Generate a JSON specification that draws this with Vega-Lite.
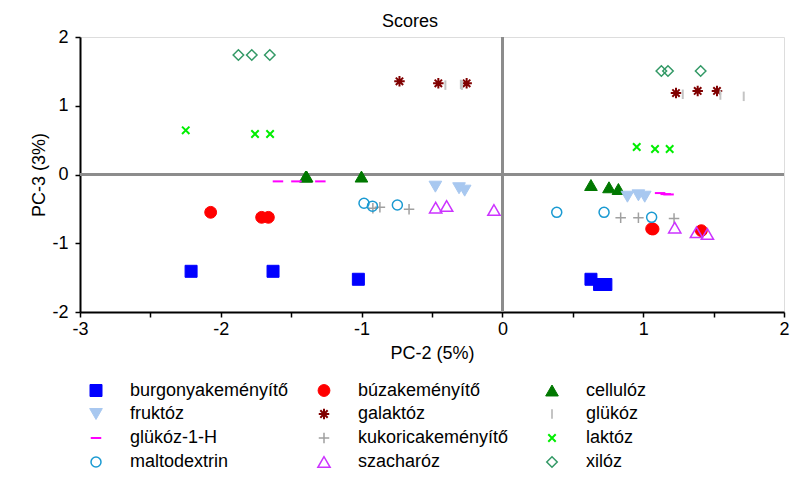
{
  "$schema": "https://vega.github.io/schema/vega-lite/v6.json",
  "width": 704,
  "height": 275,
  "autosize": "none",
  "padding": {"left": 80, "top": 37, "right": 13, "bottom": 179},
  "background": "white",
  "title": {"text": "Scores", "fontSize": 18, "fontWeight": "normal", "font": "Liberation Sans", "color": "black", "anchor": "middle", "dx": -22, "offset": -3},
  "data": {"values": [
    {"g": "burgonyakeményítő", "x": -2.211, "y": -1.408},
    {"g": "burgonyakeményítő", "x": -1.629, "y": -1.408},
    {"g": "burgonyakeményítő", "x": -1.023, "y": -1.524},
    {"g": "burgonyakeményítő", "x": 0.629, "y": -1.524},
    {"g": "burgonyakeményítő", "x": 0.69, "y": -1.6},
    {"g": "burgonyakeményítő", "x": 0.735, "y": -1.6},
    {"g": "búzakeményítő", "x": -2.072, "y": -0.55},
    {"g": "búzakeményítő", "x": -1.71, "y": -0.623},
    {"g": "búzakeményítő", "x": -1.662, "y": -0.623},
    {"g": "búzakeményítő", "x": 1.06, "y": -0.79},
    {"g": "búzakeményítő", "x": 1.07, "y": -0.793},
    {"g": "búzakeményítő", "x": 1.413, "y": -0.817},
    {"g": "cellulóz", "x": -1.397, "y": -0.03},
    {"g": "cellulóz", "x": -1.39, "y": -0.03},
    {"g": "cellulóz", "x": -1.001, "y": -0.03},
    {"g": "cellulóz", "x": 0.629, "y": -0.153},
    {"g": "cellulóz", "x": 0.757, "y": -0.186},
    {"g": "cellulóz", "x": 0.824, "y": -0.211},
    {"g": "fruktóz", "x": -0.476, "y": -0.177},
    {"g": "fruktóz", "x": -0.308, "y": -0.2},
    {"g": "fruktóz", "x": -0.268, "y": -0.235},
    {"g": "fruktóz", "x": 0.888, "y": -0.323},
    {"g": "fruktóz", "x": 0.966, "y": -0.303},
    {"g": "fruktóz", "x": 1.011, "y": -0.323},
    {"g": "galaktóz", "x": -0.731, "y": 1.356},
    {"g": "galaktóz", "x": -0.455, "y": 1.327},
    {"g": "galaktóz", "x": -0.254, "y": 1.327},
    {"g": "galaktóz", "x": 1.233, "y": 1.185},
    {"g": "galaktóz", "x": 1.387, "y": 1.215},
    {"g": "galaktóz", "x": 1.524, "y": 1.215},
    {"g": "glükóz", "x": -0.405, "y": 1.3},
    {"g": "glükóz", "x": -0.295, "y": 1.31},
    {"g": "glükóz", "x": -0.287, "y": 1.3},
    {"g": "glükóz", "x": 1.281, "y": 1.167},
    {"g": "glükóz", "x": 1.548, "y": 1.156},
    {"g": "glükóz", "x": 1.714, "y": 1.137},
    {"g": "glükóz-1-H", "x": -1.594, "y": -0.1},
    {"g": "glükóz-1-H", "x": -1.463, "y": -0.1},
    {"g": "glükóz-1-H", "x": -1.293, "y": -0.1},
    {"g": "glükóz-1-H", "x": 1.12, "y": -0.27},
    {"g": "glükóz-1-H", "x": 1.16, "y": -0.285},
    {"g": "glükóz-1-H", "x": 1.18, "y": -0.29},
    {"g": "kukoricakeményítő", "x": -0.92, "y": -0.49},
    {"g": "kukoricakeményítő", "x": -0.87, "y": -0.475},
    {"g": "kukoricakeményítő", "x": -0.663, "y": -0.506},
    {"g": "kukoricakeményítő", "x": 0.84, "y": -0.628},
    {"g": "kukoricakeményítő", "x": 0.966, "y": -0.628},
    {"g": "kukoricakeményítő", "x": 1.219, "y": -0.64},
    {"g": "laktóz", "x": -2.249, "y": 0.643},
    {"g": "laktóz", "x": -1.757, "y": 0.589},
    {"g": "laktóz", "x": -1.65, "y": 0.589},
    {"g": "laktóz", "x": 0.954, "y": 0.4},
    {"g": "laktóz", "x": 1.084, "y": 0.371},
    {"g": "laktóz", "x": 1.188, "y": 0.371},
    {"g": "maltodextrin", "x": -0.983, "y": -0.419},
    {"g": "maltodextrin", "x": -0.923, "y": -0.46},
    {"g": "maltodextrin", "x": -0.746, "y": -0.444},
    {"g": "maltodextrin", "x": 0.386, "y": -0.55},
    {"g": "maltodextrin", "x": 0.722, "y": -0.55},
    {"g": "maltodextrin", "x": 1.06, "y": -0.623},
    {"g": "szacharóz", "x": -0.474, "y": -0.482},
    {"g": "szacharóz", "x": -0.396, "y": -0.458},
    {"g": "szacharóz", "x": -0.06, "y": -0.516},
    {"g": "szacharóz", "x": 1.224, "y": -0.773},
    {"g": "szacharóz", "x": 1.378, "y": -0.841},
    {"g": "szacharóz", "x": 1.456, "y": -0.866},
    {"g": "xilóz", "x": -1.875, "y": 1.738},
    {"g": "xilóz", "x": -1.78, "y": 1.738},
    {"g": "xilóz", "x": -1.652, "y": 1.738},
    {"g": "xilóz", "x": 1.129, "y": 1.505},
    {"g": "xilóz", "x": 1.176, "y": 1.505},
    {"g": "xilóz", "x": 1.408, "y": 1.505}
  ]},
  "layer": [
    {
      "mark": {"type": "rule", "color": "#8c8c8c", "strokeWidth": 2},
      "encoding": {"x": {"datum": 0, "type": "quantitative"}}
    },
    {
      "mark": {"type": "rule", "color": "#8c8c8c", "strokeWidth": 2},
      "encoding": {"y": {"datum": 0, "type": "quantitative"}}
    },
    {
      "mark": {"type": "point", "opacity": 1},
      "encoding": {
        "x": {"field": "x", "type": "quantitative",
          "scale": {"domain": [-3, 2], "nice": false, "zero": false},
          "axis": {"title": "PC-2 (5%)", "values": [-3, -2.5, -2, -1.5, -1, -0.5, 0, 0.5, 1, 1.5, 2],
            "labelExpr": "datum.value % 1 === 0 ? '' + datum.value : ''",
            "grid": false, "domainColor": "black", "domainWidth": 2, "tickColor": "black", "tickWidth": 1.5, "tickSize": 5,
            "labelFont": "Liberation Sans", "labelFontSize": 18, "labelColor": "black", "labelPadding": 3, "labelFlush": false, "labelOverlap": false,
            "titleFont": "Liberation Sans", "titleFontSize": 18, "titleFontWeight": "normal", "titleColor": "black", "titlePadding": 6}},
        "y": {"field": "y", "type": "quantitative",
          "scale": {"domain": [-2, 2], "nice": false, "zero": false},
          "axis": {"title": "PC-3 (3%)", "values": [-2, -1.5, -1, -0.5, 0, 0.5, 1, 1.5, 2],
            "labelExpr": "datum.value % 1 === 0 ? '' + datum.value : ''",
            "grid": false, "domainColor": "black", "domainWidth": 2, "tickColor": "black", "tickWidth": 1.5, "tickSize": 5,
            "labelFont": "Liberation Sans", "labelFontSize": 18, "labelColor": "black", "labelPadding": 7, "labelFlush": false, "labelOverlap": false,
            "titleFont": "Liberation Sans", "titleFontSize": 18, "titleFontWeight": "normal", "titleColor": "black", "titlePadding": 3}},
        "shape": {"field": "g", "type": "nominal", "title": null,
          "scale": {"domain": ["burgonyakeményítő", "búzakeményítő", "cellulóz", "fruktóz", "galaktóz", "glükóz", "glükóz-1-H", "kukoricakeményítő", "laktóz", "maltodextrin", "szacharóz", "xilóz"],
            "range": ["square", "circle", "triangle-up", "triangle-down", "M-1,0L1,0M0,-1L0,1M-0.7,-0.7L0.7,0.7M-0.7,0.7L0.7,-0.7", "M0,-1L0,1", "M-1,0L1,0", "M-1,0L1,0M0,-1L0,1", "M-1,-1L1,1M-1,1L1,-1", "circle", "triangle-up", "diamond"]}},
        "stroke": {"field": "g", "type": "nominal", "title": null,
          "scale": {"domain": ["burgonyakeményítő", "búzakeményítő", "cellulóz", "fruktóz", "galaktóz", "glükóz", "glükóz-1-H", "kukoricakeményítő", "laktóz", "maltodextrin", "szacharóz", "xilóz"],
            "range": ["#0000ff", "#ff0000", "#007800", "#a8c8f0", "#800000", "#c4c4c4", "#ff00ff", "#a0a0a0", "#00ee00", "#1a9ad2", "#cc33ff", "#339966"]}},
        "fill": {"field": "g", "type": "nominal", "title": null,
          "scale": {"domain": ["burgonyakeményítő", "búzakeményítő", "cellulóz", "fruktóz", "galaktóz", "glükóz", "glükóz-1-H", "kukoricakeményítő", "laktóz", "maltodextrin", "szacharóz", "xilóz"],
            "range": ["#0000ff", "#ff0000", "#007800", "#a8c8f0", "transparent", "transparent", "transparent", "transparent", "transparent", "transparent", "transparent", "transparent"]}},
        "size": {"field": "g", "type": "nominal", "title": null,
          "scale": {"type": "ordinal", "domain": ["burgonyakeményítő", "búzakeményítő", "cellulóz", "fruktóz", "galaktóz", "glükóz", "glükóz-1-H", "kukoricakeményítő", "laktóz", "maltodextrin", "szacharóz", "xilóz"],
            "range": [144, 140, 160, 160, 110, 90, 110, 110, 55, 100, 150, 110]}},
        "strokeWidth": {"field": "g", "type": "nominal", "title": null,
          "scale": {"type": "ordinal", "domain": ["burgonyakeményítő", "búzakeményítő", "cellulóz", "fruktóz", "galaktóz", "glükóz", "glükóz-1-H", "kukoricakeményítő", "laktóz", "maltodextrin", "szacharóz", "xilóz"],
            "range": [1, 1, 1, 1, 2, 2, 2, 1.5, 2, 1.5, 1.5, 1.5]}}
      }
    }
  ],
  "config": {
    "legend": {"orient": "none", "legendX": 7, "legendY": 344, "columns": 3, "direction": "horizontal", "gridAlign": "all",
      "columnPadding": 25, "rowPadding": 4, "labelOffset": 25, "labelLimit": 300,
      "labelFont": "Liberation Sans", "labelFontSize": 18, "labelColor": "black"}
  }
}
